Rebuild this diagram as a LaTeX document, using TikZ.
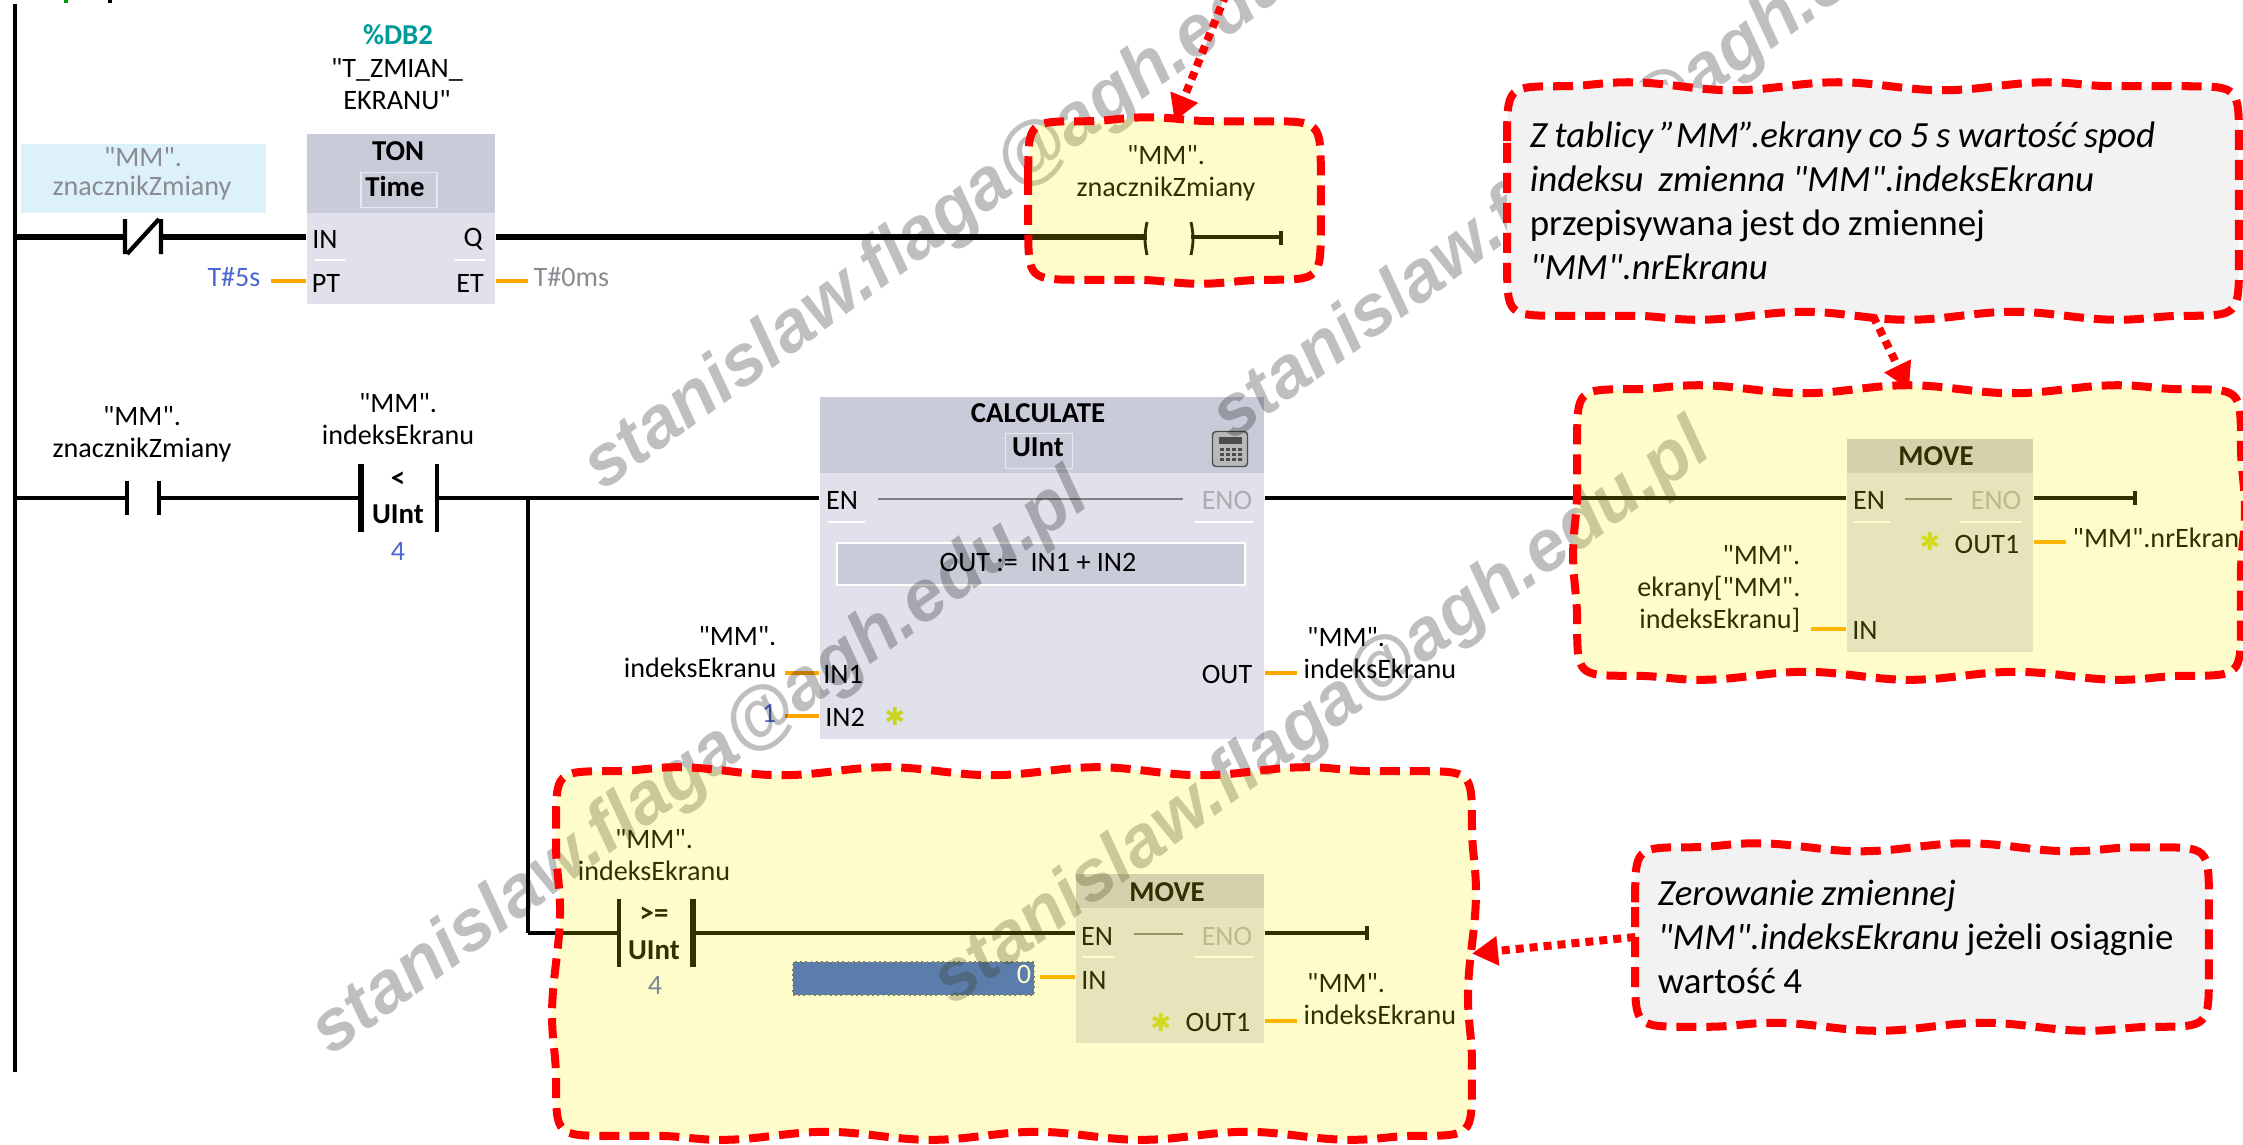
\documentclass[tikz,border=0pt]{standalone}
\usepackage{fontspec}
\setmainfont{Carlito}[Ligatures=TeXOff]
\newfontfamily\markfont{Liberation Sans}
\newfontfamily\symbfont{DejaVu Sans}
\usetikzlibrary{arrows.meta, calc, decorations.pathmorphing}
\definecolor{headblue}{HTML}{C9CBD9}
\definecolor{bodyblue}{HTML}{E0E1EA}
\definecolor{pinorange}{HTML}{FFA500}
\definecolor{hintblue}{HTML}{DDF1FB}
\definecolor{fieldblue}{HTML}{3160D6}
\definecolor{noteback}{HTML}{F2F2F2}
\definecolor{dimtext}{HTML}{8A8A90}
\definecolor{constblue}{HTML}{4A68D0}
\newcommand{\notespaces}{\spaceskip=.2em\relax}
\newcommand{\wavybox}[2]{%
    \draw [#1] ($(#2.north west)+(0,55)$) .. controls (#2.north west) .. ($(#2.north west)+(55,0)$)
        decorate {-- ($(#2.north east)+(-55,0)$)} .. controls (#2.north east) .. ($(#2.north east)+(0,55)$)
        decorate {-- ($(#2.south east)+(0,-55)$)} .. controls (#2.south east) .. ($(#2.south east)+(-55,0)$)
        decorate {-- ($(#2.south west)+(55,0)$)} .. controls (#2.south west) .. ($(#2.south west)+(0,-55)$)
        decorate {-- ($(#2.north west)+(0,55)$)};}

\begin{document}
\begin{tikzpicture}[
    x=0.01cm, y=-0.01cm,
    wire/.style={line width=1pt, black},
    hotwire/.style={line width=1.5pt, black},
    contact/.style={line width=1.2pt, black},
    pinwire/.style={line width=1.1pt, pinorange},
    blockbody/.style={fill=bodyblue, inner sep=0pt, anchor=north west},
    blockhead/.style={fill=headblue, inner sep=0pt, anchor=north west},
    label/.style={font=\fontsize{8}{9.1}\selectfont, inner sep=0pt, align=center},
    labelright/.style={label, align=right, anchor=east},
    labelleft/.style={label, align=left, anchor=west},
    title/.style={font=\fontsize{8.2}{10}\selectfont\bfseries, inner sep=0pt},
    dim/.style={label, text=dimtext},
    const/.style={label, text=constblue},
    sepline/.style={line width=0.5pt, white},
    starmark/.style={font=\symbfont\fontsize{7}{7}\selectfont, text=yellow!85!green!90!black, inner sep=0pt},
    watermark/.style={font=\markfont\bfseries\itshape\fontsize{20.5}{20.5}\selectfont, rotate=36, text=black, text opacity=.25, inner sep=0pt},
    boxslot/.style={inner sep=0pt},
    wavy/.style={decoration={snake, amplitude=.04cm, segment length=2.1cm},
                 draw=red, line width=.08cm, dash pattern=on .2cm off .1cm},
    glow/.style={wavy, fill=yellow, fill opacity=.2},
    noteline/.style={wavy, fill=noteback},
    notetext/.style={align=left, inner sep=0pt, font=\fontsize{10.5}{12.5}\selectfont},
    pointer/.style={draw=red, line width=.08cm, dash pattern=on .08cm off .06cm, -{Triangle[length=.26cm, width=.28cm]}}
]
    \clip (0,0) rectangle (2243,1144);
    \draw [line width=1pt, black] (15,4) -- (15,1072);
    \draw [line width=1pt, green!60!black] (66,0) -- (66,3);
    \draw [line width=1pt, black] (110,0) -- (110,3);

    \node [fill=hintblue, inner sep=0pt, minimum width=2.45cm, minimum height=.69cm, anchor=north west] (hint) at (20,143) {};
    \node [dim] (hinta) at (143,157) {"MM".};
    \node [dim] (hintb) at (142,188) {znacznikZmiany};
    \node [title, text=teal!80!cyan] (db) at (398,35) {\%DB2};
    \node [label] (dbname) at (397,84) {"T\_ZMIAN\_\\EKRANU"};

    \node [blockbody, minimum width=1.88cm, minimum height=1.70cm] (ton) at (306,133) {};
    \node [blockhead, minimum width=1.88cm, minimum height=.79cm] (tonhead) at (306,133) {};
    \node [title] (tontitle) at (398,151) {TON};
    \node [title, draw=white!60!headblue, minimum width=.76cm, minimum height=.35cm] (tontype) at (399,190) {};
    \node [title] (tontime) at (395,186) {Time};
    \node [label] (tonin) at (325,239) {IN};
    \node [label] (tonq) at (473,239) {Q};
    \node [label] (tonpt) at (326,283) {PT};
    \node [label] (tonet) at (470,283) {ET};
    \node [const] (tonval) at (234,277) {T\#5s};
    \node [dim, anchor=west] (tonelapsed) at (533,277) {T\#0ms};
    \draw [sepline] (315,260) -- (345,260) (455,260) -- (485,260);
    \draw [pinwire] (271,281) -- (ton.west |- 0,281);
    \draw [pinwire] (ton.east |- 0,281) -- (528,281);

    \coordinate (railone) at (15,237);
    \coordinate (nca) at (125,237);
    \coordinate (ncb) at (161,237);
    \coordinate (coila) at (1147,237);
    \coordinate (coilb) at (1191,237);
    \coordinate (coilend) at (1281,237);
    \draw [hotwire] (railone) -- (nca);
    \draw [contact] (125,219) -- (125,254) (161,219) -- (161,254) (127,254) -- (159,219);
    \draw [hotwire] (ncb) -- (ton.west |- ncb);
    \draw [hotwire] (ton.east |- ncb) -- (coila);
    \draw [contact, line width=.8pt] (1147,222) to[bend right=12] (1147,255);
    \draw [contact, line width=.8pt] (1191,222) to[bend left=12] (1191,255);
    \draw [hotwire, line width=1.2pt] (coilb) -- (coilend);
    \draw [contact] (1281,231) -- (1281,245);
    \node [label] (coilname) at (1166,173) {"MM".\\znacznikZmiany};

    \coordinate (railtwo) at (15,498);
    \coordinate (noa) at (127,498);
    \coordinate (nob) at (159,498);
    \coordinate (lta) at (361,498);
    \coordinate (ltb) at (437,498);
    \coordinate (branch) at (528,498);
    \coordinate (corner) at (528,933);
    \coordinate (gea) at (619,933);
    \coordinate (geb) at (693,933);
    \node [label] (noname) at (142,434) {"MM".\\znacznikZmiany};
    \node [label] (ltname) at (398,419) {"MM".\\indeksEkranu};
    \node [title] (ltsign) at (398,480) {<};
    \node [title] (ltkind) at (398,514) {UInt};
    \node [const] (ltval) at (398,551) {4};
    \draw [contact] (127,481) -- (127,515) (159,481) -- (159,515);
    \draw [contact, line width=1.6pt] (361,464) -- (361,532);
    \draw [contact] (437,464) -- (437,532);
    \draw [wire] (railtwo) -- (noa) (nob) -- (lta);

    \node [blockbody, minimum width=4.44cm, minimum height=3.42cm] (calc) at (819,396) {};
    \node [blockhead, minimum width=4.44cm, minimum height=.76cm] (calchead) at (819,396) {};
    \node [title] (calctitle) at (1038,413) {CALCULATE};
    \node [draw=white!60!headblue, minimum width=.67cm, minimum height=.35cm, inner sep=0pt] (calctype) at (1039,451) {};
    \node [title] (calckind) at (1038,447) {UInt};
    \node [fill=gray!55, draw=gray!60!black, line width=.4pt, rounded corners=1pt, minimum width=.35cm, minimum height=.35cm, inner sep=0pt] (calcicon) at (1230,449) {};
    \fill [black!70] (1219,437) rectangle (1242,444);
    \foreach \kx in {1220,1226,1232,1238}
        \foreach \ky in {448,453,458}
            \fill [black!70] (\kx,\ky) rectangle +(4,3);
    \node [label] (calcen) at (842,500) {EN};
    \node [dim, text=dimtext!70] (calceno) at (1227,500) {ENO};
    \draw [line width=.4pt, gray] (878,499) -- (1183,499);
    \draw [sepline] (828,522) -- (865,522) (1195,522) -- (1253,522);
    \node [fill=headblue, draw=white, line width=.6pt, minimum width=4.08cm, minimum height=.42cm, inner sep=0pt] (formula) at (1041,564) {};
    \node [label] (formtext) at (1038,562) {OUT := \ IN1 + IN2};
    \node [label] (calcina) at (843,674) {IN1};
    \node [label] (calcinb) at (845,717) {IN2};
    \node [label] (calcout) at (1227,674) {OUT};
    \node [starmark] (calcstar) at (895,717) {✱};
    \node [labelright] (calcvara) at (777,652) {"MM".\\indeksEkranu};
    \node [const] (calcconst) at (769,713) {1};
    \node [labelleft] (calcvarb) at (1303,653) {\hspace*{1pt}"MM".\\indeksEkranu};
    \draw [pinwire] (785,673) -- (calc.west |- 0,673);
    \draw [pinwire] (785,716) -- (calc.west |- 0,716);
    \draw [pinwire] (calc.east |- 0,673) -- (1297,673);
    \draw [wire] (ltb) -- (calc.west |- ltb);

    \node [blockbody, minimum width=1.86cm, minimum height=2.13cm] (movea) at (1846,438) {};
    \node [blockhead, minimum width=1.86cm, minimum height=.34cm] (moveahead) at (1846,438) {};
    \node [title] (moveatitle) at (1936,456) {MOVE};
    \node [label] (moveaen) at (1869,500) {EN};
    \node [dim, text=dimtext!70] (moveaeno) at (1996,500) {ENO};
    \draw [line width=.4pt, gray] (1905,499) -- (1952,499);
    \draw [sepline] (1853,522) -- (1890,522) (1960,522) -- (2022,522);
    \node [starmark] (moveastar) at (1930,542) {✱};
    \node [label] (moveaout) at (1987,544) {OUT1};
    \node [label] (moveain) at (1865,630) {IN};
    \node [labelleft] (moveadest) at (2072,538) {"MM".nrEkranu};
    \node [labelright] (moveasrc) at (1801,589) {"MM".\\ekrany["MM".\\indeksEkranu]};
    \draw [pinwire] (1811,629) -- (movea.west |- 0,629);
    \draw [pinwire] (movea.east |- 0,542) -- (2066,542);
    \coordinate (enda) at (2135,498);
    \draw [wire] (calc.east |- railtwo) -- (movea.west |- railtwo);
    \draw [wire] (movea.east |- enda) -- (enda);
    \draw [contact] (2135,491) -- (2135,505);

    \draw [hotwire, line width=1.3pt] (branch) -- (corner);
    \draw [wire] (corner) -- (gea);
    \draw [contact] (619,899) -- (619,967);
    \draw [contact, line width=1.6pt] (693,899) -- (693,967);
    \node [label] (gename) at (654,855) {"MM".\\indeksEkranu};
    \node [title] (gesign) at (654,915) {>=};
    \node [title] (gekind) at (654,950) {UInt};
    \node [const, text=constblue!70!gray] (geval) at (655,985) {4};

    \node [blockbody, minimum width=1.88cm, minimum height=1.69cm] (moveb) at (1075,873) {};
    \node [blockhead, minimum width=1.88cm, minimum height=.34cm] (movebhead) at (1075,873) {};
    \node [title] (movebtitle) at (1167,892) {MOVE};
    \node [label] (moveben) at (1097,936) {EN};
    \node [dim, text=dimtext!70] (movebeno) at (1227,936) {ENO};
    \draw [line width=.4pt, gray] (1134,934) -- (1183,934);
    \draw [sepline] (1082,957) -- (1115,957) (1195,957) -- (1253,957);
    \node [label] (movebin) at (1094,980) {IN};
    \node [starmark] (movebstar) at (1161,1022) {✱};
    \node [label] (movebout) at (1218,1022) {OUT1};
    \node [fill=fieldblue, draw=black!60, densely dotted, line width=.5pt, minimum width=2.41cm, minimum height=.33cm, inner sep=0pt, anchor=north west] (zerofield) at (792,961) {};
    \node [label, text=white] (zero) at (1024,974) {0};
    \node [labelleft] (movebdest) at (1303,999) {\hspace*{1pt}"MM".\\indeksEkranu};
    \draw [pinwire] (1040,977) -- (moveb.west |- 0,977);
    \draw [pinwire] (moveb.east |- 0,1021) -- (1297,1021);
    \coordinate (endb) at (1367,933);
    \draw [wire] (geb) -- (moveb.west |- geb);
    \draw [wire] (moveb.east |- endb) -- (endb);
    \draw [contact] (1367,926) -- (1367,940);

    \node [watermark] (marka) at (701,765) {stanislaw.flaga@agh.edu.pl};
    \node [watermark] (markb) at (973,200) {stanislaw.flaga@agh.edu.pl};
    \node [watermark] (markc) at (1323,715) {stanislaw.flaga@agh.edu.pl};
    \node [watermark] (markd) at (1602,150) {stanislaw.flaga@agh.edu.pl};

    \node [boxslot, minimum width=2.91cm, minimum height=1.57cm] (cloudcoil) at (1174.5,200.5) {};
    \node [boxslot, minimum width=6.62cm, minimum height=2.85cm] (cloudmove) at (1909,532.5) {};
    \node [boxslot, minimum width=9.14cm, minimum height=3.63cm] (cloudreset) at (1014,953.5) {};
    \node [boxslot, minimum width=7.30cm, minimum height=2.28cm] (notemove) at (1873,201) {};
    \node [boxslot, minimum width=5.72cm, minimum height=1.78cm] (notereset) at (1922,937) {};
    \wavybox{glow}{cloudcoil}
    \wavybox{glow}{cloudmove}
    \wavybox{glow}{cloudreset}
    \wavybox{noteline}{notemove}
    \wavybox{noteline}{notereset}

    \node [notetext, text width=6.86cm] (movetext) at (notemove) {\notespaces
        \textit{Z tablicy ”MM”.ekrany co 5 s wartość spod}\\
        \textit{indeksu \ zmienna "MM".indeksEkranu}\\
        przepisywana jest do zmiennej\\
        \textit{"MM".nrEkranu}};
    \node [notetext, text width=5.28cm] (resettext) at (notereset) {\notespaces
        \textit{Zerowanie zmiennej}\\
        \textit{"MM".indeksEkranu} jeżeli osiągnie\\
        wartość 4};

    \coordinate (notecoil) at (1226,-6);
    \draw [pointer] (notecoil) -- (cloudcoil.north);
    \draw [pointer] (notemove.south) -- (cloudmove.north);
    \draw [pointer] (notereset.west) -- (cloudreset.east);
\end{tikzpicture}
\end{document}
